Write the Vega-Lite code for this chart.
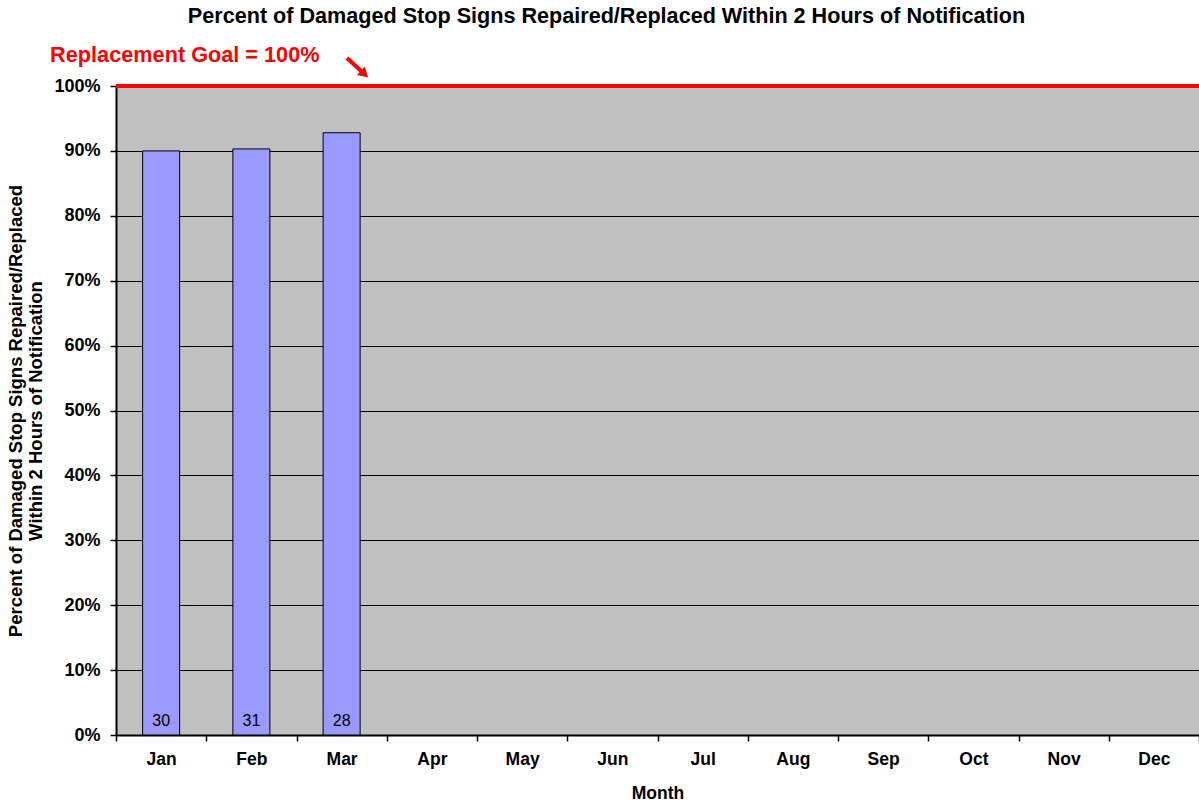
{
  "$schema": "https://vega.github.io/schema/vega-lite/v6.json",
  "width": 1083,
  "height": 649,
  "autosize": {"type": "none"},
  "padding": {"left": 116, "top": 86, "right": 0, "bottom": 71},
  "background": "white",
  "config": {
    "font": "Liberation Sans",
    "view": {"fill": "#C0C0C0", "stroke": null}
  },
  "title": {
    "text": "Percent of Damaged Stop Signs Repaired/Replaced Within 2 Hours of Notification",
    "font": "Liberation Sans",
    "fontSize": 21.6,
    "fontWeight": "bold",
    "color": "black",
    "anchor": "middle",
    "frame": "group",
    "dx": -51,
    "baseline": "alphabetic",
    "offset": 0
  },
  "datasets": {
    "months": [
      {"month": "Jan", "value": 0.90, "count": "30"},
      {"month": "Feb", "value": 0.903, "count": "31"},
      {"month": "Mar", "value": 0.928, "count": "28"},
      {"month": "Apr", "value": null, "count": ""},
      {"month": "May", "value": null, "count": ""},
      {"month": "Jun", "value": null, "count": ""},
      {"month": "Jul", "value": null, "count": ""},
      {"month": "Aug", "value": null, "count": ""},
      {"month": "Sep", "value": null, "count": ""},
      {"month": "Oct", "value": null, "count": ""},
      {"month": "Nov", "value": null, "count": ""},
      {"month": "Dec", "value": null, "count": ""}
    ],
    "arrow": [{"x1": 2.56, "y1": 1.043, "x2": 2.75, "y2": 1.019}],
    "head": [{"x": 2.74, "y": 1.02}],
    "note": [{"x": -0.73, "y": 1.048, "label": "Replacement Goal = 100%"}]
  },
  "resolve": {"scale": {"x": "independent"}},
  "layer": [
    {
      "data": {"name": "months"},
      "layer": [
        {
          "mark": {"type": "bar", "fill": "#9999FF", "stroke": "black", "strokeWidth": 1, "width": {"band": 0.41}},
          "encoding": {
            "x": {
              "field": "month",
              "type": "nominal",
              "scale": {"domain": ["Jan","Feb","Mar","Apr","May","Jun","Jul","Aug","Sep","Oct","Nov","Dec"], "paddingInner": 0, "paddingOuter": 0},
              "axis": {
                "title": "Month",
                "titleFont": "Liberation Sans",
                "titleFontSize": 17.5,
                "titleFontWeight": "bold",
                "titleColor": "black",
                "titlePadding": 17,
                "labelFont": "Liberation Sans",
                "labelFontSize": 17.5,
                "labelFontWeight": "bold",
                "labelColor": "black",
                "labelAngle": 0,
                "labelPadding": 9,
                "tickBand": "extent",
                "tickColor": "black",
                "tickWidth": 1.5,
                "tickSize": 6,
                "domainColor": "black",
                "domainWidth": 2,
                "grid": false
              }
            },
            "y": {
              "field": "value",
              "type": "quantitative",
              "scale": {"domain": [0, 1], "nice": false, "zero": true},
              "axis": {
                "title": ["Percent of  Damaged Stop Signs Repaired/Replaced", "Within 2 Hours  of Notification"],
                "titleFont": "Liberation Sans",
                "titleFontSize": 18.5,
                "titleFontWeight": "bold",
                "titleColor": "black",
                "titleLineHeight": 20,
                "titlePadding": 8,
                "format": ".0%",
                "values": [0, 0.1, 0.2, 0.3, 0.4, 0.5, 0.6, 0.7, 0.8, 0.9, 1],
                "labelFont": "Liberation Sans",
                "labelFontSize": 18,
                "labelFontWeight": "bold",
                "labelColor": "black",
                "labelPadding": 10,
                "tickColor": "black",
                "tickWidth": 1.5,
                "tickSize": 6,
                "domainColor": "black",
                "domainWidth": 2,
                "grid": true,
                "gridColor": "black",
                "gridWidth": 1,
                "gridOpacity": 1
              }
            }
          }
        },
        {
          "mark": {"type": "text", "baseline": "bottom", "dy": -6, "fontSize": 16, "color": "black", "font": "Liberation Sans"},
          "encoding": {
            "x": {"field": "month", "type": "nominal"},
            "y": {"datum": 0},
            "text": {"field": "count"}
          }
        },
        {
          "mark": {"type": "rule", "color": "#FF0000", "strokeWidth": 4},
          "encoding": {"y": {"datum": 1}}
        }
      ]
    },
    {
      "data": {"name": "arrow"},
      "mark": {"type": "rule", "color": "#FF0000", "strokeWidth": 4},
      "encoding": {
        "x": {"field": "x1", "type": "quantitative", "scale": {"domain": [0, 12], "nice": false}, "axis": null},
        "x2": {"field": "x2"},
        "y": {"field": "y1", "type": "quantitative"},
        "y2": {"field": "y2"}
      }
    },
    {
      "data": {"name": "head"},
      "mark": {"type": "point", "shape": "triangle", "filled": true, "color": "#FF0000", "size": 130, "angle": 132, "opacity": 1},
      "encoding": {
        "x": {"field": "x", "type": "quantitative", "scale": {"domain": [0, 12], "nice": false}, "axis": null},
        "y": {"field": "y", "type": "quantitative"}
      }
    },
    {
      "data": {"name": "note"},
      "mark": {"type": "text", "align": "left", "baseline": "middle", "fontSize": 21.7, "fontWeight": "bold", "color": "#FF0000", "font": "Liberation Sans"},
      "encoding": {
        "x": {"field": "x", "type": "quantitative", "scale": {"domain": [0, 12], "nice": false}, "axis": null},
        "y": {"field": "y", "type": "quantitative"},
        "text": {"field": "label"}
      }
    }
  ]
}
